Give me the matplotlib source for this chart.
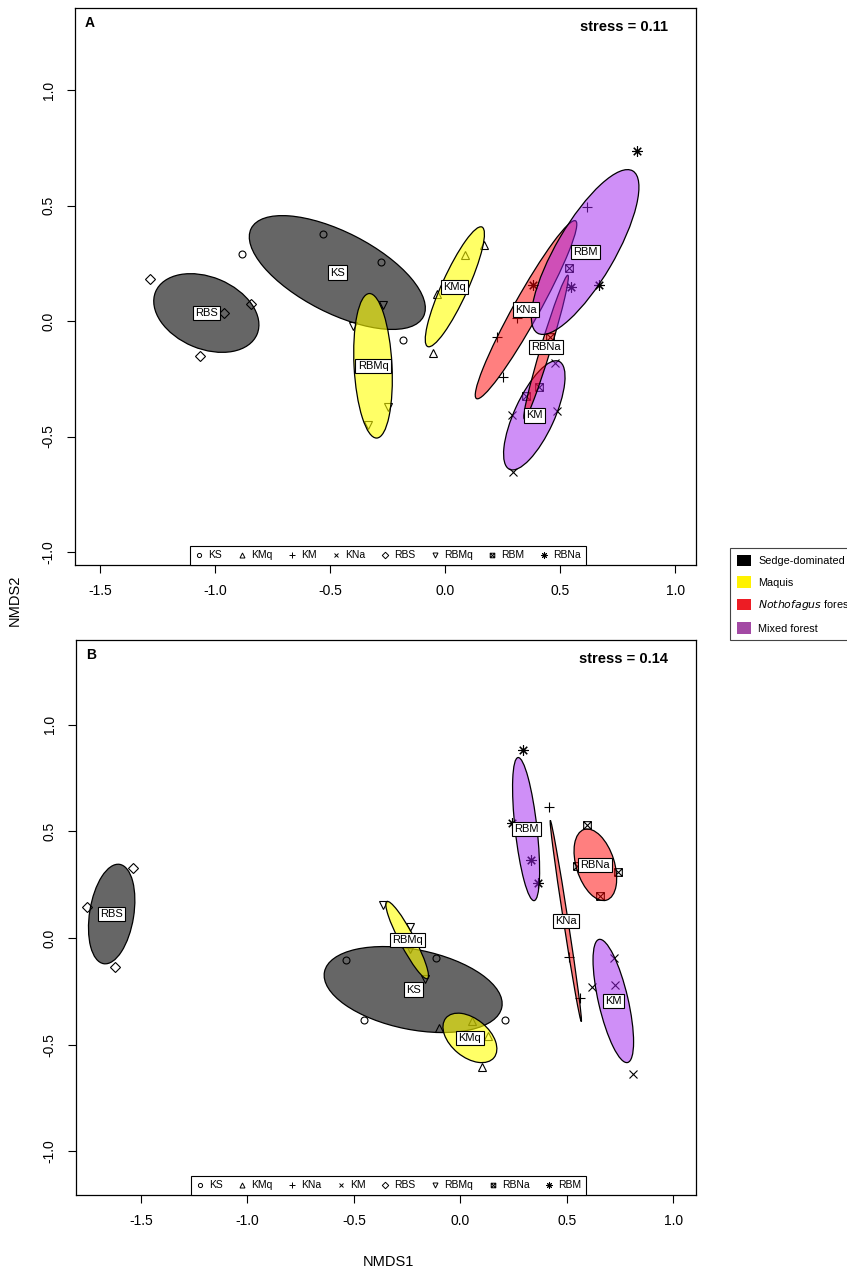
import numpy as np
import matplotlib
matplotlib.use("Agg")
import matplotlib.pyplot as plt
from matplotlib.patches import Ellipse, Patch
from matplotlib.path import Path
from matplotlib.lines import Line2D

plt.rcParams['font.family'] = ['Liberation Sans', 'DejaVu Sans']
plt.rcParams['axes.unicode_minus'] = False

# groups and habitat of each group
groups = ["KS", "KMq", "KNa", "KM", "RBS", "RBMq", "RBNa", "RBM"]
habitat = [0, 1, 2, 3, 0, 1, 2, 3]
habitat_names = ["Sedge-dominated", "Maquis", "$\\it{Nothofagus}$ forest", "Mixed forest"]

# panel A site scores
a_x = {
    "KS": [-0.883, -0.530, -0.278, -0.183],
    "KMq": [0.170, 0.087, -0.035, -0.052],
    "KNa": [0.617, 0.313, 0.226, 0.252],
    "KM": [0.478, 0.291, 0.487, 0.296],
    "RBS": [-1.283, -0.843, -0.961, -1.065],
    "RBMq": [-0.270, -0.400, -0.248, -0.335],
    "RBNa": [0.539, 0.457, 0.409, 0.352],
    "RBM": [0.835, 0.383, 0.548, 0.670],
}
a_y = {
    "KS": [0.290, 0.377, 0.255, -0.082],
    "KMq": [0.329, 0.286, 0.117, -0.139],
    "KNa": [0.494, 0.013, -0.069, -0.242],
    "KM": [-0.182, -0.407, -0.390, -0.654],
    "RBS": [0.182, 0.074, 0.035, -0.152],
    "RBMq": [0.069, -0.022, -0.372, -0.450],
    "RBNa": [0.229, -0.069, -0.286, -0.325],
    "RBM": [0.736, 0.156, 0.147, 0.156],
}

# panel B site scores
b_x = {
    "KS": [-0.535, -0.451, -0.113, 0.211],
    "KMq": [-0.103, 0.052, 0.099, 0.130],
    "KNa": [0.415, 0.509, 0.560, 0.495],
    "KM": [0.720, 0.725, 0.618, 0.808],
    "RBS": [-1.537, -1.753, -1.620, -1.640],
    "RBMq": [-0.362, -0.235, -0.239, -0.165],
    "RBNa": [0.595, 0.548, 0.738, 0.653],
    "RBM": [0.294, 0.243, 0.333, 0.363],
}
b_y = {
    "KS": [-0.103, -0.385, -0.095, -0.383],
    "KMq": [-0.421, -0.388, -0.603, -0.460],
    "KNa": [0.614, -0.088, -0.282, 0.075],
    "KM": [-0.095, -0.220, -0.228, -0.637],
    "RBS": [0.330, 0.143, -0.134, 0.110],
    "RBMq": [0.154, 0.051, -0.051, -0.193],
    "RBNa": [0.528, 0.336, 0.310, 0.198],
    "RBM": [0.882, 0.539, 0.364, 0.256],
}

# legend text as printed on each panel
a_legend = ["KS", "KMq", "KM", "KNa", "RBS", "RBMq", "RBM", "RBNa"]
b_legend = ["KS", "KMq", "KNa", "KM", "RBS", "RBMq", "RBNa", "RBM"]
stress = ["stress = 0.11", "stress = 0.14"]

# R pch 1..8
boxx = Path([(-1, -1), (1, -1), (1, 1), (-1, 1), (-1, -1), (-1, -1), (1, 1), (-1, 1), (1, -1)],
            [1, 2, 2, 2, 2, 1, 2, 1, 2])
markers = ["o", "^", "+", "x", "D", "v", boxx, (8, 2, 0)]
msizes = [5, 6, 7, 6, 5.5, 6, 5.5, 7.5]

fill = [(0, 0, 0, 0.6), (1, 1, 0, 0.6), (1, 0, 0, 0.5), (0.627, 0.125, 0.941, 0.5)]
swatch = ["#000000", "#FFF200", "#ED1C24", "#A349A4"]

chi = 5.991  # qchisq(0.95, 2)


def panel(ax, xs, ys, leg, letter, st):
    for i, g in enumerate(groups):
        ax.plot(xs[g], ys[g], linestyle="none", marker=markers[i], ms=msizes[i],
                mfc="none", mec="black", mew=0.8, zorder=1)
    for i, g in enumerate(groups):
        x = np.array(xs[g])
        y = np.array(ys[g])
        n = len(x)
        c = np.cov(np.vstack([x, y])) / n
        vals, vecs = np.linalg.eigh(c)
        ang = np.degrees(np.arctan2(vecs[1, 1], vecs[0, 1]))
        e = Ellipse((x.mean(), y.mean()), 2 * np.sqrt(vals[1] * chi), 2 * np.sqrt(vals[0] * chi),
                    angle=ang, fc=fill[habitat[i]], ec="black", lw=0.9, zorder=2)
        ax.add_patch(e)
    for i, g in enumerate(groups):
        ax.text(np.mean(xs[g]), np.mean(ys[g]), g, ha="center", va="center", fontsize=8,
                zorder=4, bbox=dict(boxstyle="square,pad=0.2", fc="white", ec="black", lw=0.8))
    handles = []
    for i, lab in enumerate(leg):
        handles.append(Line2D([], [], linestyle="none", marker=markers[i], ms=msizes[i] * 0.6,
                              mfc="none", mec="black", mew=0.7))
    lg = ax.legend(handles, leg, ncol=8, loc="lower center", bbox_to_anchor=(0.504, 0),
                   borderaxespad=0, fontsize=7.5, handlelength=0.8, handletextpad=0.5,
                   columnspacing=1.45, fancybox=False, edgecolor="black", framealpha=1,
                   borderpad=0.45)
    lg.get_frame().set_linewidth(0.8)
    lg.set_zorder(5)
    ax.text(0.016, 0.985, letter, transform=ax.transAxes, fontsize=10, weight="bold",
            ha="left", va="top")
    ax.text(0.955, 0.978, st, transform=ax.transAxes, fontsize=10.5, weight="bold",
            ha="right", va="top")
    ax.set_xticks([-1.5, -1.0, -0.5, 0.0, 0.5, 1.0])
    ax.set_yticks([-1.0, -0.5, 0.0, 0.5, 1.0])
    ax.tick_params(direction="out", length=6, labelsize=10, pad=8, width=0.8)
    for lab in ax.get_yticklabels():
        lab.set_rotation(90)
        lab.set_va("center")
    for s in ax.spines.values():
        s.set_linewidth(0.9)


fig = plt.figure(figsize=(8.47, 12.76), dpi=100)
ax1 = fig.add_axes([75 / 847, 1 - 565 / 1276, 621 / 847, 557 / 1276])
ax2 = fig.add_axes([76 / 847, 1 - 1195 / 1276, 620 / 847, 555 / 1276])

panel(ax1, a_x, a_y, a_legend, "A", stress[0])
ax1.set_xlim(-1.609, 1.091)
ax1.set_ylim(-1.056, 1.355)

panel(ax2, b_x, b_y, b_legend, "B", stress[1])
ax2.set_xlim(-1.805, 1.106)
ax2.set_ylim(-1.204, 1.396)

fig.text(15 / 847, 1 - 600 / 1276, "NMDS2", rotation=90, ha="center", va="center", fontsize=10.5)
fig.text(388 / 847, 1 - 1262 / 1276, "NMDS1", ha="center", va="center", fontsize=10.5)

hab = [Patch(fc=swatch[i], ec="none") for i in range(4)]
leg = fig.legend(hab, habitat_names, loc="upper left", bbox_to_anchor=(730 / 847, 1 - 548 / 1276),
                 borderaxespad=0, fontsize=7.8, fancybox=False, edgecolor="#444444",
                 handlelength=1.3, handleheight=1.25, handletextpad=0.7, labelspacing=0.95,
                 borderpad=0.6, framealpha=1)
leg.get_frame().set_linewidth(0.8)

fig.savefig("out.png", dpi=100)
